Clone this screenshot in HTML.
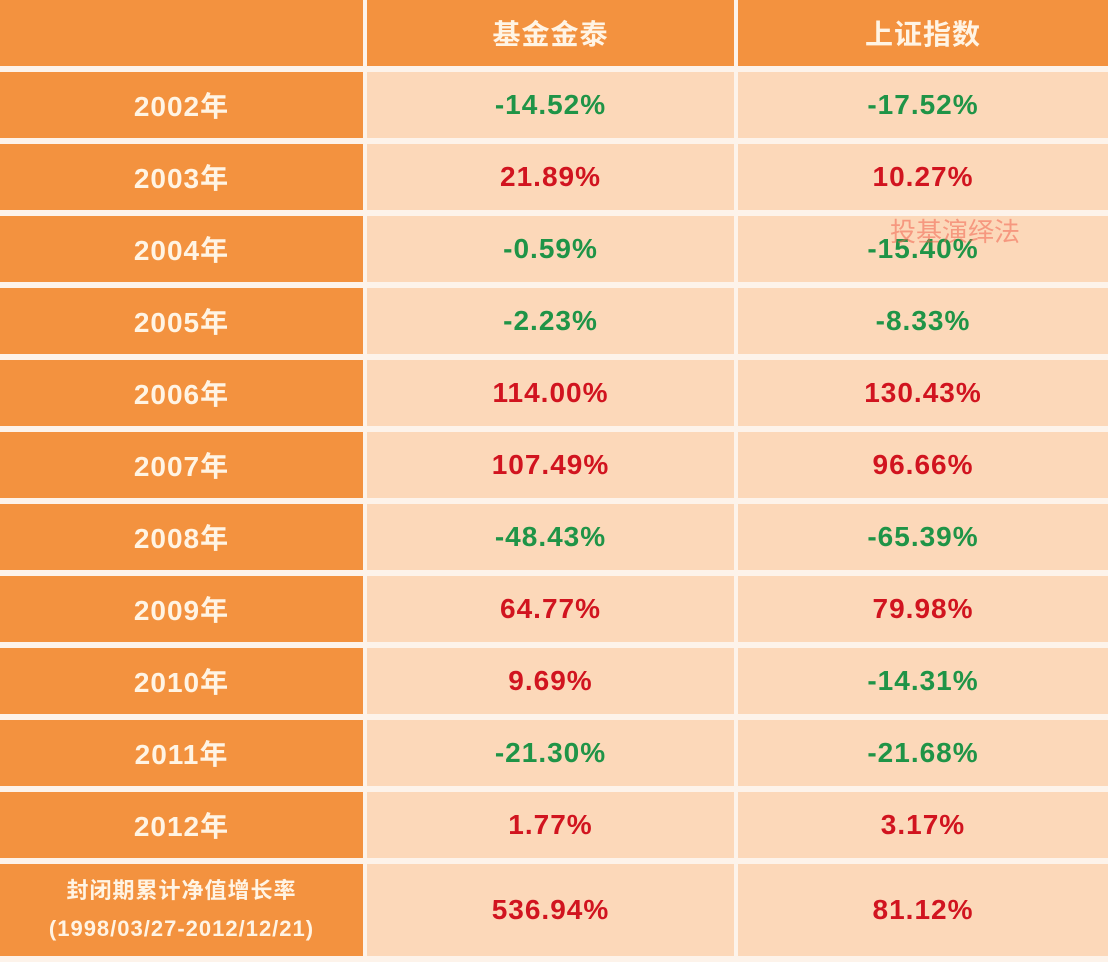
<!DOCTYPE html>
<html><head><meta charset="utf-8"><style>
body{margin:0;width:1108px;height:962px;background:#fdf3ea;position:relative;overflow:hidden;font-family:"Liberation Sans","Noto Sans CJK SC",sans-serif;font-weight:bold}
.c{position:absolute;display:flex;align-items:center;justify-content:center;font-size:28px;letter-spacing:1px}
.o{background:#f3923f;color:#fff4e4}
.l{background:#fcd8b9}
.g{color:#1f9447}.r{color:#d1141f}
</style></head><body>
<div class="c o" style="left:0;top:0;width:363px;height:66px"></div>
<div class="c o" style="left:367px;top:0;width:367px;height:66px">基金金泰</div>
<div class="c o" style="left:738px;top:0;width:370px;height:66px">上证指数</div>
<div id="rows"></div>
<script>
var d=[["2002年","-14.52%","-17.52%"],["2003年","21.89%","10.27%"],["2004年","-0.59%","-15.40%"],["2005年","-2.23%","-8.33%"],["2006年","114.00%","130.43%"],["2007年","107.49%","96.66%"],["2008年","-48.43%","-65.39%"],["2009年","64.77%","79.98%"],["2010年","9.69%","-14.31%"],["2011年","-21.30%","-21.68%"],["2012年","1.77%","3.17%"]];
var h="";
function cls(v){return v[0]=="-"?"g":"r"}
d.forEach(function(r,i){var t=72+72*i;
h+='<div class="c o" style="left:0;top:'+t+'px;width:363px;height:66px">'+r[0]+'</div>';
h+='<div class="c l '+cls(r[1])+'" style="left:367px;top:'+t+'px;width:367px;height:66px">'+r[1]+'</div>';
h+='<div class="c l '+cls(r[2])+'" style="left:738px;top:'+t+'px;width:370px;height:66px">'+r[2]+'</div>';});
h+='<div class="c o" style="left:0;top:864px;width:363px;height:92px;flex-direction:column;font-size:22px;line-height:38px"><div>封闭期累计净值增长率</div><div>(1998/03/27-2012/12/21)</div></div>';
h+='<div class="c l r" style="left:367px;top:864px;width:367px;height:92px">536.94%</div>';
h+='<div class="c l r" style="left:738px;top:864px;width:370px;height:92px">81.12%</div>';
h+='<div style="position:absolute;left:890px;top:212px;font-size:26px;color:rgba(240,100,80,0.55);font-weight:normal">投基演绎法</div>';
document.getElementById("rows").innerHTML=h;
</script>
</body></html>
